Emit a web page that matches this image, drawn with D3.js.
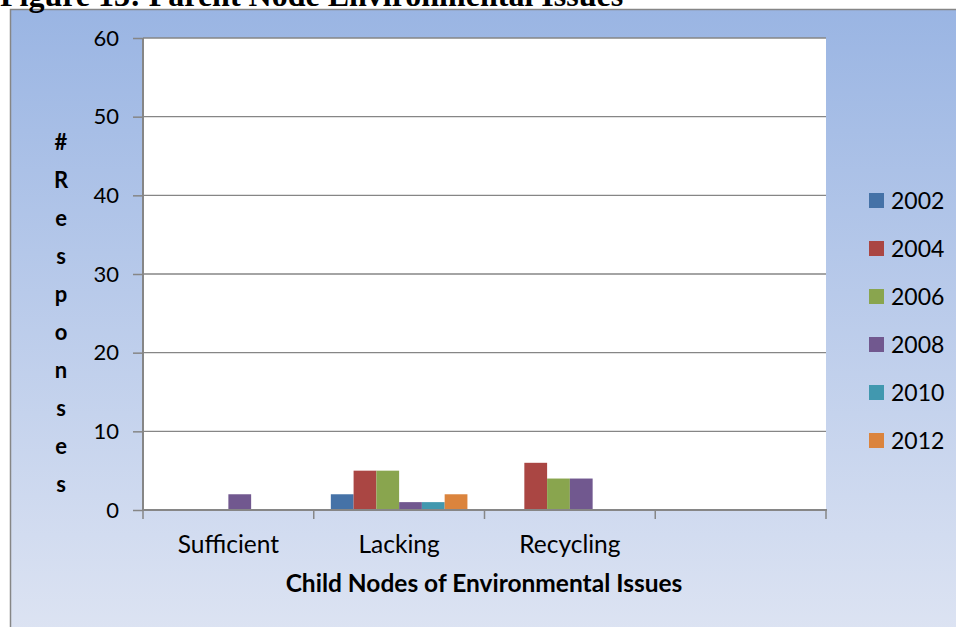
<!DOCTYPE html>
<html>
<head>
<meta charset="utf-8">
<script src="https://cdn.jsdelivr.net/npm/d3@7"></script>
<style>
  html, body { margin: 0; padding: 0; background: #ffffff; }
  svg { display: block; }
</style>
</head>
<body>
<svg id="chart" width="956" height="627"></svg>
<script>
// Responses per child node of "Environmental Issues", by survey year
const categories = ["Sufficient", "Lacking", "Recycling", ""];
const years = ["2002", "2004", "2006", "2008", "2010", "2012"];
const values2002 = [0, 2, 0, 0];
const values2004 = [0, 5, 6, 0];
const values2006 = [0, 5, 4, 0];
const values2008 = [2, 1, 4, 0];
const values2010 = [0, 1, 0, 0];
const values2012 = [0, 2, 0, 0];
const seriesValues = [values2002, values2004, values2006, values2008, values2010, values2012];
const colors = ["#4572A7", "#AA4643", "#89A54E", "#71588F", "#4198AF", "#DB843D"];
const yTicks = [0, 10, 20, 30, 40, 50, 60];
const titleText = "Figure 13: Parent Node Environmental Issues";
const xTitle = "Child Nodes of Environmental Issues";
const yTitle = "# Responses";

const svg = d3.select("#chart");
const W = 956, H = 627;
const font = "Lato, 'Open Sans', sans-serif";

// Chart panel background with vertical gradient
const defs = svg.append("defs");
const grad = defs.append("linearGradient").attr("id", "bg").attr("x1", 0).attr("y1", 0).attr("x2", 0).attr("y2", 1);
grad.append("stop").attr("offset", "0%").attr("stop-color", "#9AB5E3");
grad.append("stop").attr("offset", "100%").attr("stop-color", "#DFE5F3");

svg.append("rect").attr("x", 10.5).attr("y", 9.5).attr("width", W + 20).attr("height", H + 20)
  .attr("fill", "url(#bg)").attr("stroke", "#868686").attr("stroke-width", 1.5);

// Document caption above the panel (runs off the top of the page)
svg.append("text").attr("x", 0).attr("y", 6)
  .attr("font-family", "'Liberation Serif', 'Times New Roman', serif")
  .attr("font-weight", "bold").attr("font-size", 32).attr("fill", "#000")
  .text(titleText);

const plot = { left: 143, top: 38, right: 826, bottom: 510 };

const x0 = d3.scaleBand().domain(d3.range(categories.length))
  .range([plot.left, plot.right]).paddingInner(0).paddingOuter(0);
// six bars per group with a 150% gap between groups
const x1 = d3.scaleBand().domain(years)
  .range([x0.bandwidth() * 0.1, x0.bandwidth() * 0.9]).padding(0);
const y = d3.scaleLinear().domain([0, 60]).range([plot.bottom, plot.top]);

// Plot area
svg.append("rect").attr("x", plot.left).attr("y", plot.top)
  .attr("width", plot.right - plot.left).attr("height", plot.bottom - plot.top)
  .attr("fill", "#ffffff");

// Horizontal gridlines
svg.append("g").selectAll("line").data(yTicks.filter(d => d > 0)).join("line")
  .attr("x1", plot.left).attr("x2", plot.right)
  .attr("y1", d => y(d)).attr("y2", d => y(d))
  .attr("stroke", "#868686").attr("stroke-width", 1.3);

// Bars
const groups = svg.append("g").selectAll("g").data(categories).join("g")
  .attr("transform", (d, i) => `translate(${x0(i)},0)`);
groups.selectAll("rect").data((d, i) => years.map((yr, s) => ({ yr, s, v: seriesValues[s][i] })).filter(e => e.v > 0))
  .join("rect")
  .attr("x", d => x1(d.yr))
  .attr("width", x1.bandwidth())
  .attr("y", d => y(d.v))
  .attr("height", d => y(0) - y(d.v))
  .attr("fill", d => colors[d.s]);

// Y axis
const yAxis = d3.axisLeft(y).tickValues(yTicks).tickSize(10).tickPadding(14).tickFormat(d3.format("d"));
const gy = svg.append("g").attr("transform", `translate(${plot.left},0)`).call(yAxis);
gy.select(".domain").attr("stroke", "#868686").attr("stroke-width", 2).attr("d", `M0,${plot.top}V${plot.bottom}`);
gy.selectAll(".tick line").attr("stroke", "#868686").attr("stroke-width", 1.5);
gy.selectAll(".tick text").attr("font-family", font).attr("font-size", 22).attr("fill", "#000");

// X axis
const xTickPos = d3.range(categories.length + 1).map(i => plot.left + i * x0.bandwidth());
const gx = svg.append("g");
gx.append("line").attr("x1", plot.left - 1).attr("x2", plot.right + 1)
  .attr("y1", plot.bottom).attr("y2", plot.bottom)
  .attr("stroke", "#868686").attr("stroke-width", 2);
gx.selectAll("line.tk").data(xTickPos).join("line").attr("class", "tk")
  .attr("x1", d => d).attr("x2", d => d)
  .attr("y1", plot.bottom).attr("y2", plot.bottom + 9)
  .attr("stroke", "#868686").attr("stroke-width", 1.5);
gx.selectAll("text").data(categories).join("text")
  .attr("x", (d, i) => x0(i) + x0.bandwidth() / 2)
  .attr("y", 553)
  .attr("text-anchor", "middle")
  .attr("font-family", font).attr("font-size", 24.5).attr("fill", "#000")
  .text(d => d);

// Axis titles
svg.append("text").attr("x", 484).attr("y", 592).attr("text-anchor", "middle")
  .attr("font-family", font).attr("font-weight", "bold").attr("font-size", 24.5).attr("fill", "#000")
  .text(xTitle);

const stacked = yTitle.replace(/ /g, "").split("");
svg.append("g").selectAll("text").data(stacked).join("text")
  .attr("x", 61).attr("y", (d, i) => 150 + i * 38)
  .attr("text-anchor", "middle")
  .attr("font-family", font).attr("font-weight", "bold").attr("font-size", 22).attr("fill", "#000")
  .text(d => d);

// Legend
const legend = svg.append("g").selectAll("g").data(years).join("g")
  .attr("transform", (d, i) => `translate(869,${193 + i * 48})`);
legend.append("rect").attr("width", 15).attr("height", 15).attr("fill", (d, i) => colors[i]);
legend.append("text").attr("x", 22).attr("y", 15.5)
  .attr("font-family", font).attr("font-size", 23).attr("fill", "#000")
  .text(d => d);
</script>
</body>
</html>
